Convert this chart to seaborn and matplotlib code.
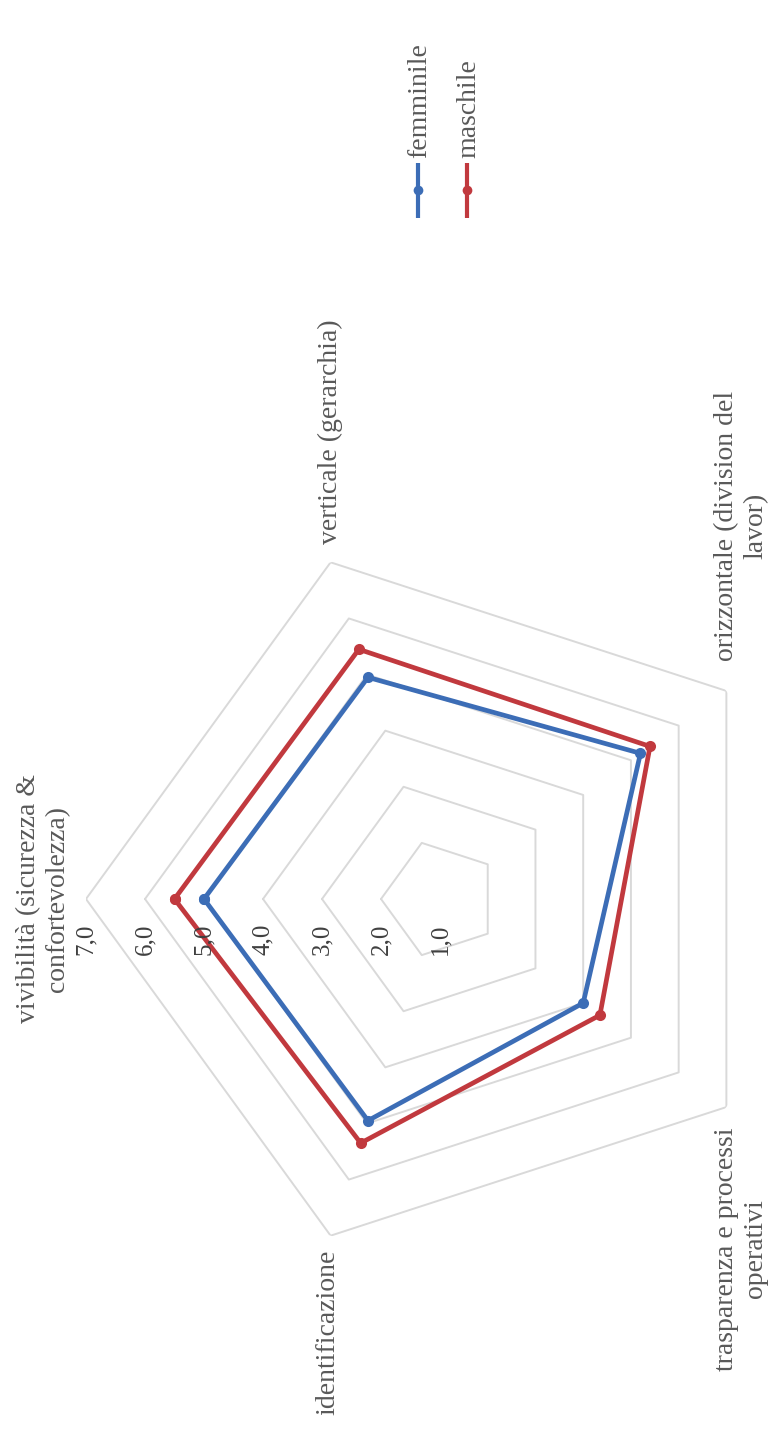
import numpy as np
import pandas as pd
import seaborn as sns
import matplotlib.pyplot as plt

# assi del radar (in ordine orario partendo dall'alto del grafico originale)
categorie = [
    "vivibilità (sicurezza &\nconfortevolezza)",
    "verticale (gerarchia)",
    "orizzontale (division del\nlavor)",
    "trasparenza e processi\noperativi",
    "identificazione",
]
femminile = [5.0, 4.95, 5.2, 4.0, 4.95]
maschile = [5.5, 5.45, 5.4, 4.35, 5.35]
anelli = [2, 3, 4, 5, 6, 7]
tick_valori = [1, 2, 3, 4, 5, 6, 7]
serie = ["femminile", "maschile"]
colori = ["#3C6DB6", "#C1393E"]

sns.set_theme(style="white")
plt.rcParams["font.family"] = ["Liberation Serif", "DejaVu Serif"]
grigio = "#595959"

n = len(categorie)
theta = np.linspace(0, 2 * np.pi, n, endpoint=False)
theta_chiuso = np.append(theta, 2 * np.pi)

rows = []
for nome, vals in zip(serie, [femminile, maschile]):
    for t, v in zip(theta_chiuso, vals + vals[:1]):
        rows.append({"theta": t, "valore": v, "genere": nome})
df = pd.DataFrame(rows)

W, H = 772, 1437
fig = plt.figure(figsize=(W / 100, H / 100), dpi=100)
fig.patch.set_facecolor("white")

# centro (440, 899) px, raggio 354 px
cx, cy, R = 440, 899, 354
ax = fig.add_axes([(cx - R) / W, (H - cy - R) / H, 2 * R / W, 2 * R / H],
                  projection="polar")
ax.set_theta_offset(np.pi)
ax.set_theta_direction(-1)
ax.patch.set_alpha(0)

for r in anelli:
    ax.plot(theta_chiuso, [r] * (n + 1), color="#D9D9D9", lw=1.4, zorder=1)

sns.lineplot(data=df, x="theta", y="valore", hue="genere", hue_order=serie,
             palette=colori, sort=False, estimator=None, marker="o",
             markersize=8, markeredgewidth=0, linewidth=3.4, legend=False,
             ax=ax, zorder=3)

ax.set_ylim(1, 7)
ax.grid(False)
ax.set_xticks([])
ax.set_yticks([])
ax.set_xlabel("")
ax.set_ylabel("")
ax.spines["polar"].set_visible(False)

# etichette dei valori lungo il primo asse
for v in tick_valori:
    ax.annotate(f"{v:.1f}".replace(".", ","), xy=(0, v), xytext=(0, -40),
                textcoords="offset pixels", rotation=90, ha="center",
                va="center", fontsize=18, color="#404040")

# etichette delle categorie
pos = [
    dict(xytext=(-16, 0), ha="right", va="center"),
    dict(xytext=(0, 18), ha="center", va="bottom"),
    dict(xytext=(15, 30), ha="center", va="bottom"),
    dict(xytext=(15, -20), ha="center", va="top"),
    dict(xytext=(-3, -14), ha="center", va="top"),
]
for t, lab, p in zip(theta, categorie, pos):
    ax.annotate(lab, xy=(t, 7), textcoords="offset pixels", rotation=90,
                multialignment="center", fontsize=20, color=grigio,
                annotation_clip=False, **p)

# legenda (ruotata come il grafico)
lax = fig.add_axes([0, 0, 1, 1])
lax.set_xlim(0, W)
lax.set_ylim(H, 0)
lax.axis("off")
for i, (nome, col) in enumerate(zip(serie, colori)):
    x = 418 + i * 49
    lax.plot([x, x], [163, 218], color=col, lw=3, solid_capstyle="butt")
    lax.plot([x], [190], marker="o", ms=7, color=col, mew=0)
    lax.text(x + 2, 158, nome, rotation=90, ha="center", va="bottom",
             fontsize=20, color=grigio)

fig.savefig("out.png", dpi=100, facecolor="white")
